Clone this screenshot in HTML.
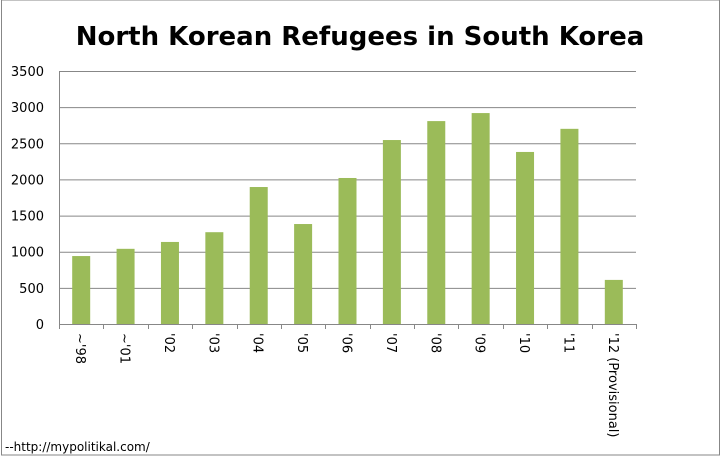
<!DOCTYPE html>
<html><head><meta charset="utf-8"><style>
body{margin:0;background:#fff}
svg text{font-family:"DejaVu Sans","Liberation Sans",sans-serif}
</style></head><body>
<svg width="721" height="456" viewBox="0 0 721 456">
<rect x="1.5" y="0" width="718" height="455" fill="#fff" stroke="#878787"/>
<text x="360" y="45" text-anchor="middle" font-size="26" font-weight="bold" fill="#000" style="font-family:'DejaVu Sans',sans-serif">North Korean Refugees in South Korea</text>
<g id="grid"></g><g id="bars"></g><g id="axes"></g>
<text x="5" y="451" font-size="12" fill="#000">--http://mypolitikal.com/</text>
</svg>
<script>
const categories=["~'98","~'01","'02","'03","'04","'05","'06","'07","'08","'09","'10","'11","'12 (Provisional)"];
const values=[940,1040,1135,1270,1895,1383,2020,2545,2807,2918,2380,2700,610];
const yTicks=[0,500,1000,1500,2000,2500,3000,3500];
const NS="http://www.w3.org/2000/svg";
const x0=59,x1=636,yb=324,yt=71,ymax=3500;
const bw=(x1-x0)/categories.length;
const y=v=>yb-(v/ymax)*(yb-yt);
function mk(t,a,p){const e=document.createElementNS(NS,t);for(const k in a)e.setAttribute(k,a[k]);p.appendChild(e);return e;}
const g=document.getElementById('grid'),b=document.getElementById('bars'),ax=document.getElementById('axes');
yTicks.forEach(v=>{
 if(v>0){const l=mk('line',{x1:x0,x2:x1,y1:y(v)+.5,y2:y(v)+.5,stroke:'#878787'},g);
 
 }
 const t=mk('text',{x:44,y:y(v)+5,'text-anchor':'end','font-size':13,fill:'#000'},ax);
 t.textContent=v;
 
 
});
values.forEach((v,i)=>{
 const cx=x0+bw*(i+.5);
 const r=mk('rect',{x:cx-9,y:y(v),width:18,height:yb-y(v),fill:'#9bbb59'},b);
 
 
});
const ya=mk('line',{x1:x0+.5,x2:x0+.5,y1:yt,y2:yb+5,stroke:'#878787'},ax);


const xa=mk('line',{x1:x0,x2:x1+1,y1:yb+.5,y2:yb+.5,stroke:'#878787'},ax);


for(let i=0;i<=categories.length;i++){
 const tx=Math.round(x0+bw*i)+.5;
 const tk=mk('line',{x1:tx,x2:tx,y1:yb,y2:yb+5,stroke:'#878787'},ax);
 
 
}
categories.forEach((c,i)=>{
 const cx=x0+bw*(i+.5);
 const t=mk('text',{x:0,y:0,'font-size':13,fill:'#000',transform:`translate(${cx-5},333) rotate(90)`},ax);
 t.textContent=c;
 
 
});
</script>
</body></html>
